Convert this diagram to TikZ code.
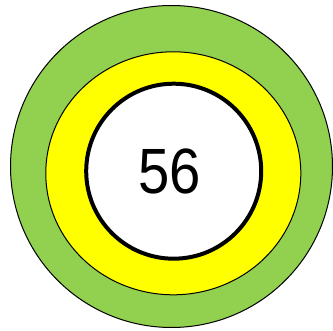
\documentclass[tikz,border=0pt]{standalone}
\usepackage{fontspec}
\setmainfont{Liberation Sans}
\definecolor{ringgreen}{HTML}{92D050}
\definecolor{ringyellow}{HTML}{FFFF00}
\begin{document}
\begin{tikzpicture}[x=1pt,y=-1pt,
  ring/.style={draw=black,line width=1pt}]
\useasboundingbox (0,0) rectangle (333,331);
\path[ring,fill=ringgreen] (171.5,166.5) ellipse [x radius=161,y radius=161];
\path[ring,fill=ringyellow] (173.3,173.3) ellipse [x radius=127.5,y radius=121.5];
\node[circle,draw=black,line width=4pt,fill=white,minimum size=175pt,inner sep=0pt] (c) at (173.7,171.2) {};
\node[inner sep=0pt,xscale=0.88] (t) at (170,171.5) {\fontsize{64}{64}\selectfont 56};
\end{tikzpicture}
\end{document}
